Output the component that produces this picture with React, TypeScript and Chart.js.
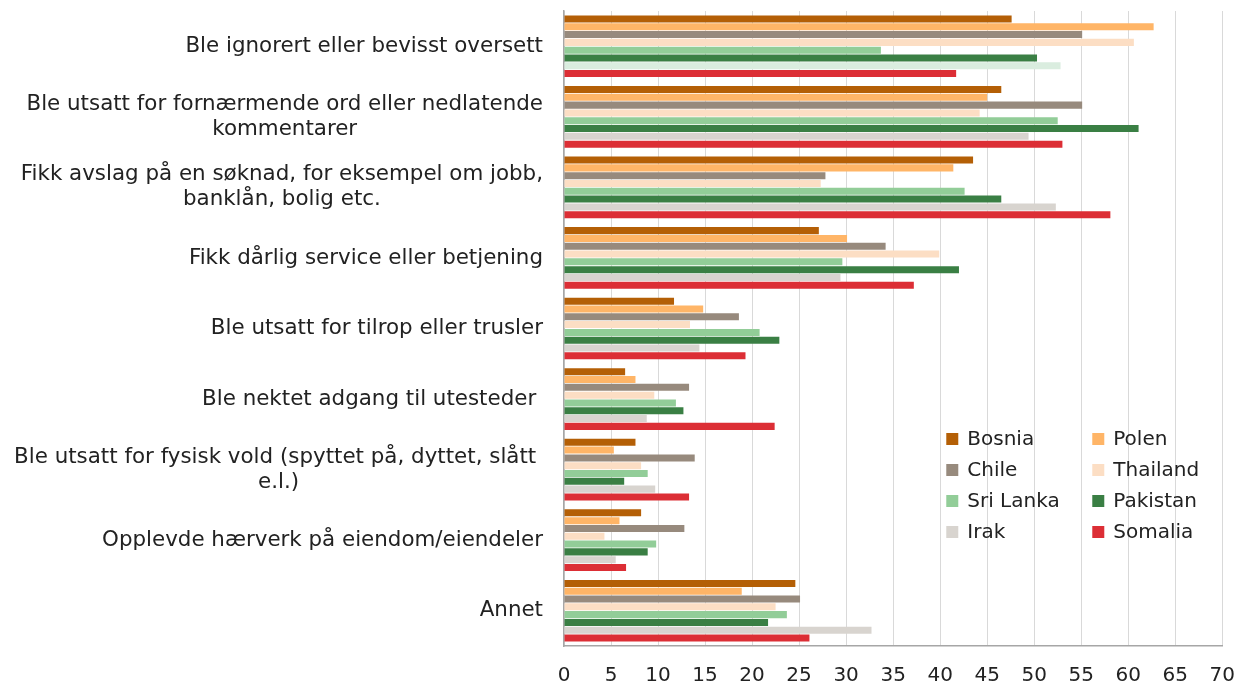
import React, { useEffect, useRef } from "react";
import { Chart, registerables } from "chart.js";

Chart.register(...registerables);

const categories: string[][] = [
  ["Ble ignorert eller bevisst oversett"],
  ["Ble utsatt for fornærmende ord eller nedlatende", "kommentarer"],
  ["Fikk avslag på en søknad, for eksempel om jobb,", "banklån, bolig etc."],
  ["Fikk dårlig service eller betjening"],
  ["Ble utsatt for tilrop eller trusler"],
  ["Ble nektet adgang til utesteder "],
  ["Ble utsatt for fysisk vold (spyttet på, dyttet, slått ", "e.l.)"],
  ["Opplevde hærverk på eiendom/eiendeler"],
  ["Annet"],
];

const bosnia = [47.6, 46.5, 43.5, 27.1, 11.7, 6.5, 7.6, 8.2, 24.6];
const polen = [62.7, 45.0, 41.4, 30.1, 14.8, 7.6, 5.3, 5.9, 18.9];
const chile = [55.1, 55.1, 27.8, 34.2, 18.6, 13.3, 13.9, 12.8, 25.1];
const thailand = [60.6, 44.2, 27.3, 39.9, 13.4, 9.6, 8.2, 4.3, 22.5];
const sriLanka = [33.7, 52.5, 42.6, 29.6, 20.8, 11.9, 8.9, 9.8, 23.7];
const pakistan = [50.3, 61.1, 46.5, 42.0, 22.9, 12.7, 6.4, 8.9, 21.7];
const irak = [52.8, 49.4, 52.3, 29.4, 14.4, 8.8, 9.7, 5.5, 32.7];
const somalia = [41.7, 53.0, 58.1, 37.2, 19.3, 22.4, 13.3, 6.6, 26.1];

const xTicks = [0, 5, 10, 15, 20, 25, 30, 35, 40, 45, 50, 55, 60, 65, 70];

const FONT = "'DejaVu Sans', Verdana, sans-serif";
const TEXT = "#222222";

const irakColors = irak.map((_, i) => (i === 0 ? "#DAEDDF" : "#D8D4CF"));

const categoryLabelPlugin = {
  id: "categoryLabels",
  afterDraw(chart: any) {
    const ctx = chart.ctx;
    const yScale = chart.scales.y;
    const right = chart.chartArea.left - 21;
    const lh = 25;
    ctx.save();
    ctx.font = `21.4px ${FONT}`;
    ctx.fillStyle = TEXT;
    ctx.textBaseline = "middle";
    ctx.textAlign = "center";
    categories.forEach((lines, i) => {
      const y = yScale.getPixelForTick(i);
      const w = Math.max(...lines.map((l) => ctx.measureText(l).width));
      const cx = right - w / 2;
      const y0 = y - ((lines.length - 1) * lh) / 2;
      lines.forEach((l, j) => ctx.fillText(l, cx, y0 + j * lh));
    });
    ctx.restore();
  },
};

const legendPlugin = {
  id: "gridLegend",
  afterDraw(chart: any) {
    const ctx = chart.ctx;
    const area = chart.chartArea;
    const x0 = area.right - 276;
    const y0 = area.top + 428;
    ctx.save();
    ctx.font = `20px ${FONT}`;
    ctx.textBaseline = "middle";
    ctx.textAlign = "left";
    chart.data.datasets.forEach((ds: any, i: number) => {
      const col = i % 2;
      const row = Math.floor(i / 2);
      const x = x0 + col * 146;
      const y = y0 + row * 31;
      ctx.fillStyle = ds.legendColor;
      ctx.fillRect(x, y - 6, 12, 12);
      ctx.fillStyle = TEXT;
      ctx.fillText(ds.label, x + 21, y + 1);
    });
    ctx.restore();
  },
};

export default function App() {
  const ref = useRef<HTMLCanvasElement | null>(null);
  useEffect(() => {
    if (!ref.current) return;
    const mk = (label: string, data: number[], color: any, legendColor: string) => ({
      label,
      data,
      backgroundColor: color,
      legendColor,
      borderWidth: 0,
      categoryPercentage: 0.885,
      barPercentage: 0.9,
    });
    const chart = new Chart(ref.current, {
      type: "bar",
      data: {
        labels: categories.map((c) => c.join(" ")),
        datasets: [
          mk("Bosnia", bosnia, "#B45F06", "#B45F06"),
          mk("Polen", polen, "#FFB567", "#FFB567"),
          mk("Chile", chile, "#978A7D", "#978A7D"),
          mk("Thailand", thailand, "#FCDEC4", "#FCDEC4"),
          mk("Sri Lanka", sriLanka, "#92CD98", "#92CD98"),
          mk("Pakistan", pakistan, "#3A7F44", "#3A7F44"),
          mk("Irak", irak, irakColors, "#D8D4CF"),
          mk("Somalia", somalia, "#DC2E35", "#DC2E35"),
        ] as any,
      },
      options: {
        indexAxis: "y",
        animation: false,
        responsive: false,
        devicePixelRatio: 1,
        layout: { padding: { left: 0, right: 0, top: 11, bottom: 0 } },
        plugins: {
          legend: { display: false },
          tooltip: { enabled: false },
        },
        scales: {
          x: {
            type: "linear",
            min: 0,
            max: 70,
            afterBuildTicks: (scale: any) => {
              scale.ticks = xTicks.map((v) => ({ value: v }));
            },
            ticks: {
              padding: 20,
              color: TEXT,
              font: { family: FONT, size: 20, lineHeight: 1 },
            },
            grid: { color: "#D9D9D9", lineWidth: 1, drawTicks: false },
            border: { color: "#A6A6A6", width: 1.5 },
            afterFit: (scale: any) => {
              scale.height = 40;
            },
          },
          y: {
            type: "category",
            ticks: { display: true, callback: () => "" },
            grid: { display: false, drawTicks: false },
            border: { color: "#A6A6A6", width: 1.5 },
            afterFit: (scale: any) => {
              scale.width = 564;
            },
          },
        },
      } as any,
      plugins: [categoryLabelPlugin, legendPlugin],
    });
    return () => chart.destroy();
  }, []);
  return (
    <div style={{ position: "fixed", left: 0, top: 0, width: 1255, height: 686, background: "#fff" }}>
      <canvas ref={ref} width={1255} height={686} style={{ display: "block" }} />
    </div>
  );
}
